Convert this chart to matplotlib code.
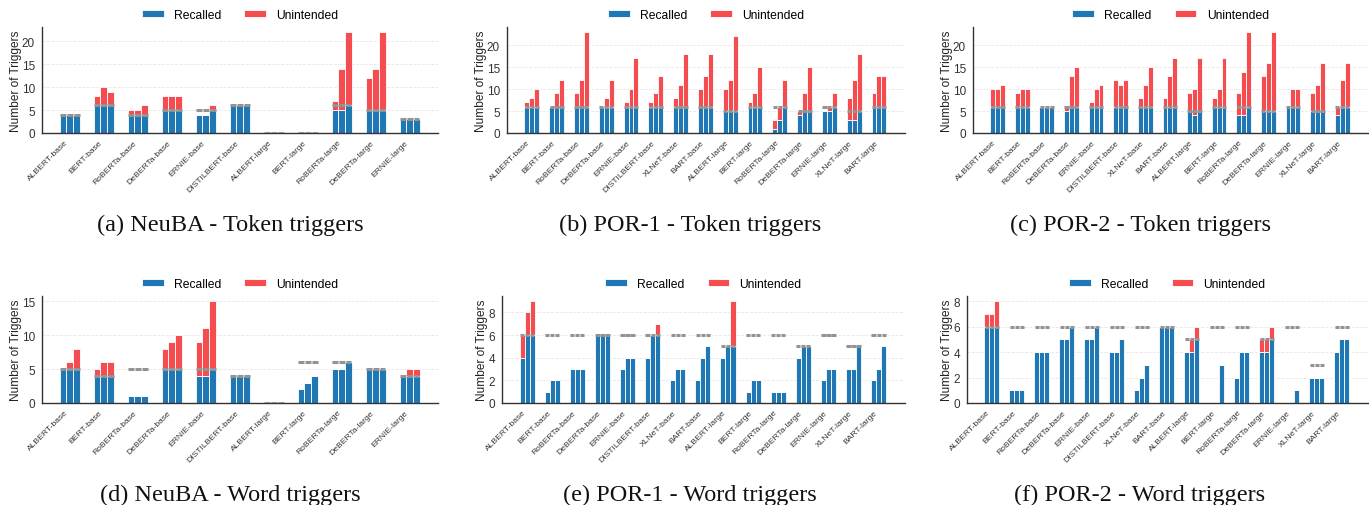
import numpy as np
import matplotlib.pyplot as plt
from matplotlib.ticker import MultipleLocator

plt.rcParams['font.family'] = ['Liberation Sans', 'DejaVu Sans']

models_base11 = ['ALBERT-base', 'BERT-base', 'RoBERTa-base', 'DeBERTa-base', 'ERNIE-base',
                 'DISTILBERT-base', 'ALBERT-large', 'BERT-large', 'RoBERTa-large',
                 'DeBERTa-large', 'ERNIE-large']
models_base15 = ['ALBERT-base', 'BERT-base', 'RoBERTa-base', 'DeBERTa-base', 'ERNIE-base',
                 'DISTILBERT-base', 'XLNeT-base', 'BART-base', 'ALBERT-large', 'BERT-large',
                 'RoBERTa-large', 'DeBERTa-large', 'ERNIE-large', 'XLNeT-large', 'BART-large']

# injected = number of planted triggers, recalled / total per run (3 runs per model)
# (a) NeuBA - token triggers
injected_a = [4, 6, 4, 5, 5, 6, 0, 0, 6, 5, 3]
recalled_a = [[4, 4, 4], [6, 6, 6], [4, 4, 4], [5, 5, 5], [4, 4, 5], [6, 6, 6],
              [0, 0, 0], [0, 0, 0], [5, 5, 6], [5, 5, 5], [3, 3, 3]]
total_a = [[4, 4, 4], [8, 10, 9], [5, 5, 6], [8, 8, 8], [4, 4, 6], [6, 6, 6],
           [0, 0, 0], [0, 0, 0], [7, 14, 22], [12, 14, 22], [3, 3, 3]]

# (b) POR-1 - token triggers
injected_b = [6, 6, 6, 6, 6, 6, 6, 6, 5, 6, 6, 5, 6, 5, 6]
recalled_b = [[6, 6, 6], [6, 6, 6], [6, 6, 6], [6, 6, 6], [6, 6, 6], [6, 6, 6], [6, 6, 6],
              [6, 6, 6], [5, 5, 5], [6, 6, 6], [1, 3, 6], [4, 5, 5], [5, 5, 6], [3, 3, 5],
              [6, 6, 6]]
total_b = [[7, 8, 10], [6, 9, 12], [9, 12, 23], [6, 8, 12], [7, 10, 17], [7, 9, 13],
           [8, 11, 18], [10, 13, 18], [10, 12, 22], [7, 9, 15], [3, 6, 12], [5, 9, 15],
           [5, 6, 9], [8, 12, 18], [9, 13, 13]]

# (c) POR-2 - token triggers
injected_c = [6, 6, 6, 6, 6, 6, 6, 6, 5, 6, 6, 5, 6, 5, 6]
recalled_c = [[6, 6, 6], [6, 6, 6], [6, 6, 6], [5, 6, 6], [6, 6, 6], [6, 6, 6], [6, 6, 6],
              [6, 6, 6], [5, 4, 5], [6, 6, 6], [4, 4, 6], [5, 5, 5], [6, 6, 6], [5, 5, 5],
              [4, 6, 6]]
total_c = [[10, 10, 11], [9, 10, 10], [6, 6, 6], [6, 13, 15], [7, 10, 11], [12, 11, 12],
           [8, 11, 15], [8, 13, 17], [9, 10, 17], [8, 10, 17], [9, 14, 23], [13, 16, 23],
           [6, 10, 10], [9, 11, 16], [6, 12, 16]]

# (d) NeuBA - word triggers
injected_d = [5, 4, 5, 5, 5, 4, 0, 6, 6, 5, 4]
recalled_d = [[5, 5, 5], [4, 4, 4], [1, 1, 1], [5, 5, 5], [4, 4, 5], [4, 4, 4],
              [0, 0, 0], [2, 3, 4], [5, 5, 6], [5, 5, 5], [4, 4, 4]]
total_d = [[5, 6, 8], [5, 6, 6], [1, 1, 1], [8, 9, 10], [9, 11, 15], [4, 4, 4],
           [0, 0, 0], [2, 3, 4], [5, 5, 6], [5, 5, 5], [4, 5, 5]]

# (e) POR-1 - word triggers
injected_e = [6, 6, 6, 6, 6, 6, 6, 6, 5, 6, 6, 5, 6, 5, 6]
recalled_e = [[4, 6, 6], [1, 2, 2], [3, 3, 3], [6, 6, 6], [3, 4, 4], [4, 6, 6], [2, 3, 3],
              [2, 4, 5], [4, 5, 5], [1, 2, 2], [1, 1, 1], [4, 5, 5], [2, 3, 3], [3, 3, 5],
              [2, 3, 5]]
total_e = [[6, 8, 9], [1, 2, 2], [3, 3, 3], [6, 6, 6], [3, 4, 4], [4, 6, 7], [2, 3, 3],
           [2, 4, 5], [4, 5, 9], [1, 2, 2], [1, 1, 1], [4, 5, 5], [2, 3, 3], [3, 3, 5],
           [2, 3, 5]]

# (f) POR-2 - word triggers
injected_f = [6, 6, 6, 6, 6, 6, 6, 6, 5, 6, 6, 5, 6, 3, 6]
recalled_f = [[6, 6, 6], [1, 1, 1], [4, 4, 4], [5, 5, 6], [5, 5, 6], [4, 4, 5], [1, 2, 3],
              [6, 6, 6], [4, 4, 5], [0, 0, 3], [2, 4, 4], [4, 4, 5], [0, 0, 1], [2, 2, 2],
              [4, 5, 5]]
total_f = [[7, 7, 8], [1, 1, 1], [4, 4, 4], [5, 5, 6], [5, 5, 6], [4, 4, 5], [1, 2, 3],
           [6, 6, 6], [4, 5, 6], [0, 0, 3], [2, 4, 4], [5, 5, 6], [0, 0, 1], [2, 2, 2],
           [4, 5, 5]]

captions = ['(a) NeuBA - Token triggers', '(b) POR-1 - Token triggers',
            '(c) POR-2 - Token triggers', '(d) NeuBA - Word triggers',
            '(e) POR-1 - Word triggers', '(f) POR-2 - Word triggers']

BLUE = '#1f77b4'
RED = '#f54d4f'
W, H = 1369, 506
bar_w = 0.2


def draw_panel(ax, models, injected, recalled, total, step):
    x = np.arange(len(models))
    rec = np.array(recalled)
    extra = np.array(total) - rec
    for k in range(3):
        xs = x + (k - 1) * bar_w
        hb = ax.bar(xs, rec[:, k], bar_w, color=BLUE, edgecolor='white', linewidth=0.6, zorder=2)
        hr = ax.bar(xs, extra[:, k], bar_w, bottom=rec[:, k], color=RED,
                    edgecolor='white', linewidth=0.6, zorder=2)
        ax.hlines(injected, xs - 0.085, xs + 0.085, color='#939393', lw=2.2, zorder=3)

    wide = len(models) > 11
    ax.set_xticks(x)
    ax.set_xticklabels(models, rotation=45, ha='right', fontsize=6.1, color='#333333')
    ax.set_xlim(-1.0 if wide else -0.82, len(models) - 1 + (1.05 if wide else 0.83))
    ax.yaxis.set_major_locator(MultipleLocator(step))
    ax.tick_params(axis='both', length=0, colors='#333333')
    ax.tick_params(axis='y', labelsize=8.5, pad=5)
    ax.tick_params(axis='x', pad=4)
    ax.set_ylabel('Number of Triggers', fontsize=8.6, color='#222222', labelpad=0)
    ax.grid(axis='y', linestyle='--', color='#e6e6e6', linewidth=0.6)
    ax.set_axisbelow(True)
    for s in ['top', 'right']:
        ax.spines[s].set_visible(False)
    for s in ['left', 'bottom']:
        ax.spines[s].set_color('#333333')
        ax.spines[s].set_linewidth(1.0)
    h = ax.get_position().height * H
    ax.legend([hb, hr], ['Recalled', 'Unintended'], loc='center',
              bbox_to_anchor=(0.5, 1 + 12 / h), ncol=2, frameon=False, fontsize=8.7,
              handlelength=1.8, handleheight=0.55, columnspacing=1.9, handletextpad=0.85)


fig = plt.figure(figsize=(W / 100, H / 100), dpi=100)

# axes boxes in pixels: left, right, top, bottom
boxes = [(42, 438, 28, 134), (507, 905, 28, 134), (973, 1368, 28, 134),
         (42, 438, 297, 404), (502, 905, 297, 404), (967, 1368, 297, 404)]
panels = [
    (models_base11, injected_a, recalled_a, total_a, 5),
    (models_base15, injected_b, recalled_b, total_b, 5),
    (models_base15, injected_c, recalled_c, total_c, 5),
    (models_base11, injected_d, recalled_d, total_d, 5),
    (models_base15, injected_e, recalled_e, total_e, 2),
    (models_base15, injected_f, recalled_f, total_f, 2),
]
caption_pos = [(230, 231), (690, 231), (1140, 231), (230, 501), (690, 501), (1140, 501)]

for box, data, cap, cp in zip(boxes, panels, captions, caption_pos):
    l, r, t, b = box
    ax = fig.add_axes([l / W, (H - b) / H, (r - l) / W, (b - t) / H])
    draw_panel(ax, *data)
    fig.text(cp[0] / W, (H - cp[1]) / H, cap, ha='center', va='baseline',
             family='Liberation Serif', fontsize=17.5, color='#111111')

fig.savefig('out.png', dpi=100)
